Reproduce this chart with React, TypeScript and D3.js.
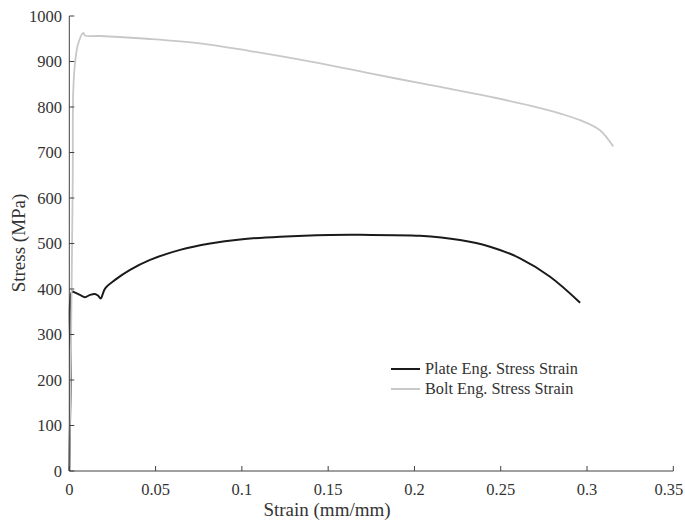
import React from "react";
import * as d3 from "d3";

const plateStrain = [0, 0.0008, 0.0016, 0.0033, 0.0062, 0.0091, 0.012, 0.0149, 0.0168, 0.0182, 0.0207, 0.0265, 0.0352, 0.0468, 0.0642, 0.0816, 0.099, 0.1221, 0.151, 0.1685, 0.2032, 0.2264, 0.2438, 0.2612, 0.2786, 0.296];
const plateStress = [0, 200, 394, 392, 387, 382, 387, 389, 385, 379, 401, 420, 442, 464, 486, 500, 509, 515, 518.7, 519, 517, 507.7, 493, 467.5, 427, 370];

const boltStrain = [0, 0.0012, 0.002, 0.0023, 0.0035, 0.0052, 0.0081, 0.0091, 0.0178, 0.045, 0.0757, 0.1047, 0.1337, 0.1625, 0.1916, 0.215, 0.238, 0.267, 0.285, 0.296, 0.3075, 0.3152];
const boltStress = [0, 350, 640, 837, 903, 940, 963, 957, 956, 950, 940, 923, 904, 883, 861, 844, 827, 803, 785, 771, 749, 713];

const xTicks = [0, 0.05, 0.1, 0.15, 0.2, 0.25, 0.3, 0.35];
const yTicks = [0, 100, 200, 300, 400, 500, 600, 700, 800, 900, 1000];
const legendLabels = ["Plate Eng. Stress Strain", "Bolt Eng. Stress Strain"];
const colors = ["#1a1a1a", "#c8c8c8"];

export default function App() {
  const W = 685, H = 525;
  const x = d3.scaleLinear().domain([0, 0.35]).range([69.3, 673.3]);
  const y = d3.scaleLinear().domain([0, 1000]).range([471, 16]);
  const line = d3.line<[number, number]>().x(d => x(d[0])).y(d => y(d[1])).curve(d3.curveCatmullRom.alpha(0.5));
  const plate = plateStrain.map((s, i) => [s, plateStress[i]] as [number, number]);
  const bolt = boltStrain.map((s, i) => [s, boltStress[i]] as [number, number]);
  const font = "'Liberation Serif', 'Times New Roman', serif";
  const axisColor = "#404040";
  const textColor = "#333";
  return (
    <svg width={W} height={H} style={{ position: "absolute", left: 0, top: 0, background: "#fff" }} fontFamily={font}>
      <rect width={W} height={H} fill="#fff" />
      <path d={line(plate) || ""} fill="none" stroke={colors[0]} strokeWidth={2} />
      <path d={line(bolt) || ""} fill="none" stroke={colors[1]} strokeWidth={1.8} />
      <line x1={x(0)} x2={x(0.35)} y1={y(0)} y2={y(0)} stroke={axisColor} strokeWidth={1} />
      <line x1={x(0)} x2={x(0)} y1={y(0)} y2={y(1000)} stroke={axisColor} strokeWidth={1} />
      {xTicks.map((t, i) => {
        const last = i === xTicks.length - 1;
        return (
          <g key={"x" + t}>
            <line x1={x(t)} x2={x(t)} y1={y(0)} y2={y(0) - 5} stroke={axisColor} />
            <text x={last ? x(t) + 10 : x(t)} y={495} textAnchor={last ? "end" : "middle"} fontSize={16.5} fill={textColor}>{t}</text>
          </g>
        );
      })}
      {yTicks.map(t => (
        <g key={"y" + t}>
          <line x1={x(0)} x2={x(0) + 5} y1={y(t)} y2={y(t)} stroke={axisColor} />
          <text x={62} y={y(t)} dy="0.35em" textAnchor="end" fontSize={16.5} fill={textColor}>{t}</text>
        </g>
      ))}
      <text x={327} y={516} textAnchor="middle" fontSize={19} fill={textColor}>Strain (mm/mm)</text>
      <text transform={`translate(25,243) rotate(-90)`} textAnchor="middle" fontSize={19} fill={textColor}>Stress (MPa)</text>
      {legendLabels.map((l, i) => (
        <g key={l}>
          <line x1={391} x2={420} y1={369 + i * 20} y2={369 + i * 20} stroke={colors[i]} strokeWidth={2} />
          <text x={425} y={369 + i * 20} dy="0.33em" fontSize={16.3} fill={textColor}>{l}</text>
        </g>
      ))}
    </svg>
  );
}
